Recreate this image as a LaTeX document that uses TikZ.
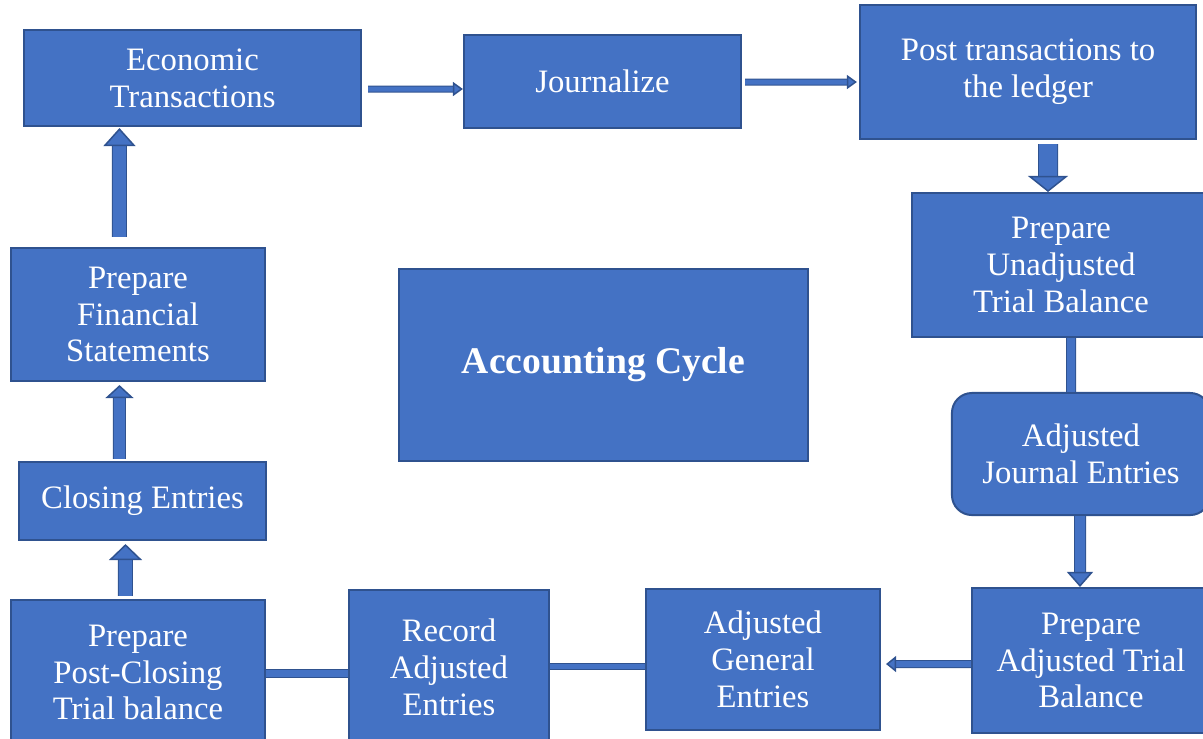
\documentclass[tikz,border=0pt]{standalone}
\usepackage{fontspec}
\setmainfont{Liberation Serif}
\usetikzlibrary{positioning,arrows.meta}

\definecolor{boxblue}{HTML}{4472C4}
\definecolor{boxedge}{HTML}{2F528F}

\begin{document}
\begin{tikzpicture}[
    x=0.01cm, y=-0.01cm,
    every node/.style={font=\fontsize{9.3}{10.5}\selectfont, text=white},
    box/.style={draw=boxedge, fill=boxblue, line width=0.2mm, inner sep=0pt, align=center},
    roundbox/.style={box, rounded corners=2mm},
    barline/.style={preaction={draw=boxedge, line width=#1+0.2mm}, draw=boxblue, line width=#1},
    blockarrow/.style n args={3}{preaction={arrows=-, draw=boxedge, line width=#1+0.2mm, shorten >=#3},
        draw=boxblue, line width=#1,
        -{Triangle[width=#2, length=#3, fill=boxblue, color=boxedge, line width=0.15mm]}}
]
\useasboundingbox (0,0) rectangle (1203,738);

% top row
\node[box, minimum width=33.7mm, minimum height=9.6mm] (econ) at (192.5,78) {Economic\\Transactions};
\node[box, minimum width=27.7mm, minimum height=9.3mm] (journal) at (602.5,81.5) {Journalize};
\node[box, minimum width=33.6mm, minimum height=13.4mm] (ledger) at (1028,72) {Post transactions to\\the ledger};

% right column
\node[box, minimum width=29.8mm, minimum height=14.4mm] (unadj) at (1061,265) {Prepare\\Unadjusted\\Trial Balance};
\node[roundbox, minimum width=25.8mm, minimum height=12.2mm] (adjje) at (1081,454) {Adjusted\\Journal Entries};
\node[box, minimum width=23.8mm, minimum height=14.5mm] (adjtb) at (1091,660.5) {Prepare\\Adjusted Trial\\Balance};

% bottom row
\node[box, minimum width=23.4mm, minimum height=14.1mm] (adjgen) at (763,659.5) {Adjusted\\General\\Entries};
\node[box, minimum width=20mm, minimum height=15.5mm] (record) at (449,667.5) {Record\\Adjusted\\Entries};
\node[box, minimum width=25.4mm, minimum height=14.5mm] (postcl) at (138,672.5) {Prepare\\Post-Closing\\Trial balance};

% left column
\node[box, minimum width=24.7mm, minimum height=7.8mm] (closing) at (142.5,501) {Closing Entries};
\node[box, minimum width=25.4mm, minimum height=13.3mm] (finstat) at (138,314.5) {Prepare\\Financial\\Statements};

% centre
\node[box, minimum width=40.9mm, minimum height=19.2mm, font=\fontsize{10.7}{12}\selectfont\bfseries] (cycle) at (603.5,365) {Accounting Cycle};

% connectors
\draw[blockarrow={0.5mm}{1.4mm}{1mm}] ([xshift=0.6mm,yshift=-1.1mm]econ.east) -- ([yshift=-0.75mm]journal.west);
\draw[blockarrow={0.5mm}{1.4mm}{1mm}] ([xshift=0.3mm,yshift=-0.05mm]journal.east) -- ([xshift=-0.2mm,yshift=-1mm]ledger.west);
\draw[blockarrow={1.8mm}{4mm}{1.6mm}] ([xshift=2mm,yshift=-0.4mm]ledger.south) -- ([xshift=-1.3mm]unadj.north);
\draw[barline=0.8mm] ([xshift=1mm]unadj.south) -- ([xshift=-1mm]adjje.north);
\draw[blockarrow={1mm}{2.6mm}{1.5mm}] ([xshift=-0.1mm]adjje.south) -- ([xshift=-1.1mm]adjtb.north);
\draw[blockarrow={0.6mm}{1.6mm}{1mm}] ([yshift=-0.35mm]adjtb.west) -- ([xshift=0.5mm,yshift=-0.45mm]adjgen.east);
\draw[barline=0.5mm] ([yshift=-0.65mm]adjgen.west) -- ([yshift=-0.65mm]adjgen.west -| record.east);
\draw[barline=0.7mm] ([yshift=-0.55mm]record.west) -- ([yshift=-0.55mm]record.west -| postcl.east);
\draw[blockarrow={1.3mm}{3.3mm}{1.6mm}] ([xshift=-1.25mm,yshift=0.3mm]postcl.north) -- ([xshift=-1.7mm,yshift=-0.3mm]closing.south);
\draw[blockarrow={1.1mm}{2.8mm}{1.3mm}] ([xshift=-2.3mm,yshift=0.2mm]closing.north) -- ([xshift=-1.85mm,yshift=-0.3mm]finstat.south);
\draw[blockarrow={1.3mm}{3.2mm}{1.8mm}] ([xshift=-1.85mm,yshift=1mm]finstat.north) -- ([xshift=-7.3mm,yshift=-0.1mm]econ.south);

\end{tikzpicture}
\end{document}
